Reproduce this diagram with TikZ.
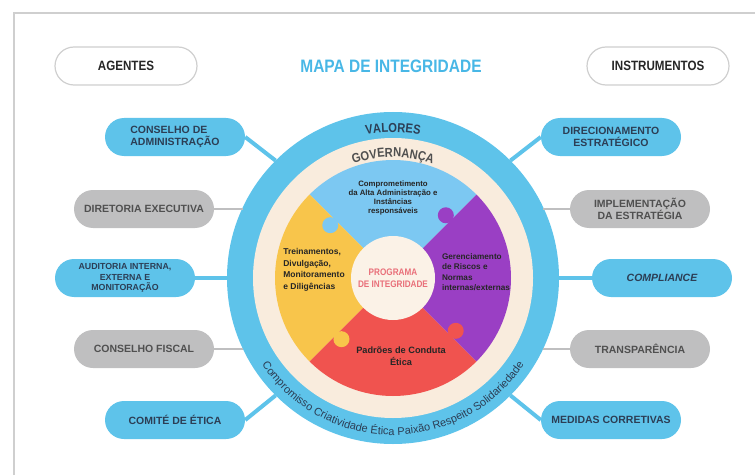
\documentclass[tikz,border=0pt]{standalone}
\usepackage{fontspec}
\setmainfont{Liberation Sans}
\newfontfamily\condfont[FakeStretch=0.86]{Liberation Sans}
\usetikzlibrary{calc,decorations.text}

\definecolor{ringblue}{HTML}{5EC3EA}
\definecolor{pieceblue}{HTML}{7CC8F2}
\definecolor{cream}{HTML}{F9ECDD}
\definecolor{pieceyellow}{HTML}{F8C54B}
\definecolor{piecepurple}{HTML}{9A3FC4}
\definecolor{piecered}{HTML}{F0534F}
\definecolor{hubwhite}{HTML}{FBF2E7}
\definecolor{pillgray}{HTML}{BFBFC0}
\definecolor{navytext}{HTML}{2C3E55}
\definecolor{graytext}{HTML}{505050}
\definecolor{titleblue}{HTML}{48B7E6}
\definecolor{hubpink}{HTML}{E9707A}
\definecolor{framegray}{HTML}{CFCFCF}

\begin{document}
\begin{tikzpicture}[x=1pt,y=1pt,
  pill/.style={rectangle,rounded corners=19pt,minimum width=140pt,minimum height=38pt,
    inner sep=2pt,align=center,font=\bfseries\fontsize{10.5}{12}\selectfont},
  bluepill/.style={pill,fill=ringblue,text=navytext},
  graypill/.style={pill,fill=pillgray,text=graytext},
  headpill/.style={pill,draw=framegray,line width=1.2pt,fill=white,text=black!85,
    minimum width=142pt,font=\condfont\bfseries\fontsize{13.5}{15}\selectfont},
  bluelink/.style={draw=ringblue,line width=4pt},
  graylink/.style={draw=pillgray,line width=2.5pt},
  piecetext/.style={text=black!85}]
  \useasboundingbox (0,0) rectangle (755,475);
  % frame
  \draw[framegray,line width=1.2pt] (14,0) -- (14,462) -- (755,462);
  % header
  \node[headpill] (agentes) at (126,409) {AGENTES};
  \node[font=\condfont\bfseries\fontsize{18}{20}\selectfont,text=titleblue] (title) at (391,409) {MAPA DE INTEGRIDADE};
  \node[headpill] (instr) at (658,409) {INSTRUMENTOS};
  % rings
  \coordinate (c) at (393,197);
  \node[circle,fill=ringblue,minimum size=332pt,inner sep=0pt,outer sep=0pt] (ring) at (c) {};
  \fill[cream] (c) circle (140);
  % puzzle pieces
  \fill[pieceblue] (c) -- ++(45:118) arc (45:135:118) -- cycle;
  \fill[pieceyellow] (c) -- ++(135:118) arc (135:225:118) -- cycle;
  \fill[piecered] (c) -- ++(225:118) arc (225:315:118) -- cycle;
  \fill[piecepurple] (c) -- ++(-45:118) arc (-45:45:118) -- cycle;
  % knobs
  \fill[pieceblue] ($(c)+(139.9:82)$) circle (8);
  \fill[piecepurple] ($(c)+(49.9:82)$) circle (8);
  \fill[piecered] ($(c)+(-40.1:82)$) circle (8);
  \fill[pieceyellow] ($(c)+(229.9:80)$) circle (8);
  \node[circle,fill=hubwhite,minimum size=84pt,inner sep=0pt,align=center,
    font=\condfont\bfseries\fontsize{9.5}{12}\selectfont,text=hubpink] (hub) at (c) {PROGRAMA\\DE INTEGRIDADE};
  % piece labels
  \node[piecetext,align=center,font=\bfseries\fontsize{7.8}{9}\selectfont] (tblue) at (393,277) {Comprometimento\\da Alta Administração e\\Instâncias\\responsáveis};
  \node[piecetext,align=left,font=\bfseries\fontsize{8.5}{11.5}\selectfont] (tyellow) at (314,205) {Treinamentos,\\Divulgação,\\Monitoramento\\e Diligências};
  \node[piecetext,align=left,font=\bfseries\fontsize{8.2}{10.5}\selectfont] (tpurple) at (476,203) {Gerenciamento\\de Riscos e\\ Normas\\internas/externas};
  \node[piecetext,align=center,font=\bfseries\fontsize{9.2}{12}\selectfont] (tred) at (401,119) {Padrões de Conduta\\Ética};
  % ring texts
  \path[decorate,decoration={text along path,text align=center,
    text={|\condfont\bfseries\fontsize{13}{13}\selectfont\color{navytext}|VALORES}}]
    ($(c)+(120:146)$) arc (120:60:146);
  \path[decorate,decoration={text along path,text align=center,
    text={|\condfont\bfseries\fontsize{13}{13}\selectfont\color{graytext}|GOVERNANÇA}}]
    ($(c)+(125:121)$) arc (125:55:121);
  \path[decorate,decoration={text along path,text align=center,
    text={|\fontsize{11}{11}\selectfont\color{navytext}|Compromisso Criatividade Ética Paixão Respeito Solidariedade}}]
    ($(c)+(195:157)$) arc (195:345:157);
  % agents
  \node[bluepill,align=left] (cadm) at (175,338) {CONSELHO DE\\ADMINISTRAÇÃO};
  \node[graypill] (dirx) at (144,266) {DIRETORIA EXECUTIVA};
  \node[bluepill,font=\bfseries\fontsize{8.8}{10.5}\selectfont] (audi) at (125,197) {AUDITORIA INTERNA,\\EXTERNA E\\MONITORAÇÃO};
  \node[graypill] (cfis) at (144,126) {CONSELHO FISCAL};
  \node[bluepill] (ceti) at (175,55) {COMITÉ DE ÉTICA};
  % instruments
  \node[bluepill] (dire) at (611,338) {DIRECIONAMENTO\\ESTRATÉGICO};
  \node[graypill] (impl) at (640,266) {IMPLEMENTAÇÃO\\DA ESTRATÉGIA};
  \node[bluepill,font=\bfseries\itshape\fontsize{10.5}{12}\selectfont] (comp) at (662,197) {COMPLIANCE};
  \node[graypill] (tran) at (640,126) {TRANSPARÊNCIA};
  \node[bluepill] (medi) at (611,55) {MEDIDAS CORRETIVAS};
  % links
  \draw[bluelink] (cadm.east) -- (ring.135);
  \draw[graylink] (dirx.east) -- (dirx.east -| ring.155);
  \draw[bluelink] (audi.east) -- (ring.west);
  \draw[graylink] (cfis.east) -- (cfis.east -| ring.205);
  \draw[bluelink] (ceti.east) -- (ring.225);
  \draw[bluelink] (dire.west) -- (ring.45);
  \draw[graylink] (impl.west) -- (impl.west -| ring.25);
  \draw[bluelink] (comp.west) -- (ring.east);
  \draw[graylink] (tran.west) -- (tran.west -| ring.-25);
  \draw[bluelink] (medi.west) -- (ring.-45);
\end{tikzpicture}
\end{document}
